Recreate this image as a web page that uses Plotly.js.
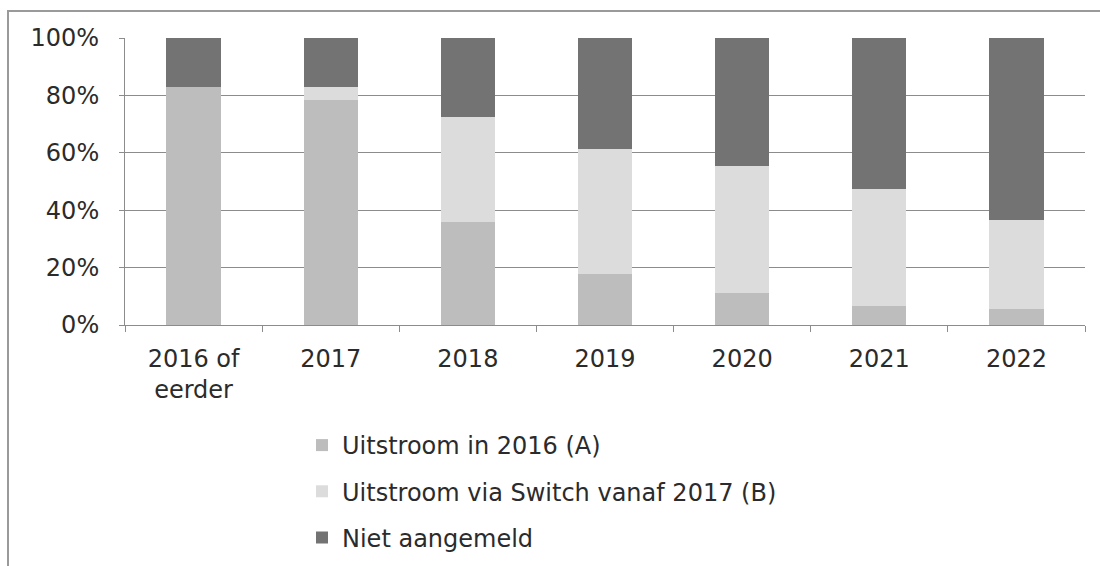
<!DOCTYPE html>
<html>
<head>
<meta charset="utf-8">
<script src="https://cdn.plot.ly/plotly-3.0.1.min.js"></script>
<style>html,body{margin:0;padding:0;background:#fff;}#chart{width:1100px;height:566px;}</style>
</head>
<body>
<div id="chart"></div>
<script>
const categories = ["2016 of<br>eerder", "2017", "2018", "2019", "2020", "2021", "2022"];
const uitstroom2016 = [83, 78.5, 36, 17.8, 11, 6.6, 5.5];
const uitstroomSwitch = [0, 4.5, 36.6, 43.4, 44.4, 40.9, 31];
const nietAangemeld = [17, 17, 27.4, 38.8, 44.6, 52.5, 63.5];
const seriesNames = ["Uitstroom in 2016 (A)", "Uitstroom via Switch vanaf 2017 (B)", "Niet aangemeld"];
const seriesColors = ["#bdbdbd", "#dcdcdc", "#737373"];
const yTicks = [0, 20, 40, 60, 80, 100];

const seriesValues = [uitstroom2016, uitstroomSwitch, nietAangemeld];
const traces = seriesValues.map((vals, i) => ({
  type: "bar",
  x: categories,
  y: vals,
  name: seriesNames[i],
  legendgroup: "g" + i,
  marker: {color: seriesColors[i], line: {width: 0}},
  hoverinfo: "name+y"
}));

// page geometry (pixels)
const W = 1100, H = 566, L = 125, R = 15, T = 0, B = 241, PLOT_TOP = 38;
const pw = W - L - R, ph = H - T - B;
const px = v => (v - L) / pw;
const py = v => (H - B - v) / ph;

const layout = {
  width: W, height: H,
  margin: {l: L, r: R, t: T, b: B, pad: 0},
  paper_bgcolor: "#ffffff",
  plot_bgcolor: "#ffffff",
  barmode: "stack",
  bargap: 0.605,
  font: {family: "DejaVu Sans, Verdana, sans-serif", size: 24, color: "#2b2b2b"},
  xaxis: {
    type: "category",
    showgrid: false,
    showline: true, linecolor: "#8c8c8c", linewidth: 1,
    ticks: "outside", ticklen: 6, tickcolor: "#8c8c8c",
    tickson: "boundaries",
    tickangle: 0,
    ticklabelstandoff: 12,
    tickfont: {size: 24, color: "#2b2b2b"}
  },
  yaxis: {
    domain: [0, py(PLOT_TOP)],
    range: [0, 100],
    tickvals: yTicks,
    ticktext: yTicks.map(v => v + "%"),
    showgrid: true, gridcolor: "#8c8c8c", gridwidth: 1,
    showline: true, linecolor: "#8c8c8c", linewidth: 1,
    ticks: "outside", ticklen: 5, tickcolor: "#8c8c8c",
    ticklabelstandoff: 15,
    zeroline: false,
    tickfont: {size: 24, color: "#2b2b2b"}
  },
  showlegend: true,
  legend: {
    orientation: "v",
    traceorder: "grouped",
    tracegroupgap: 12,
    x: px(302), xanchor: "left",
    y: py(423), yanchor: "top",
    font: {size: 24, color: "#2b2b2b"},
    bgcolor: "rgba(0,0,0,0)"
  },
  shapes: [{
    type: "path", xref: "paper", yref: "paper",
    path: `M ${px(8)},${py(580)} L ${px(8)},${py(11)} L ${px(1110)},${py(11)}`,
    line: {color: "#9a9a9a", width: 2}
  }]
};

Plotly.newPlot("chart", traces, layout, {displayModeBar: false, staticPlot: true});
</script>
</body>
</html>
